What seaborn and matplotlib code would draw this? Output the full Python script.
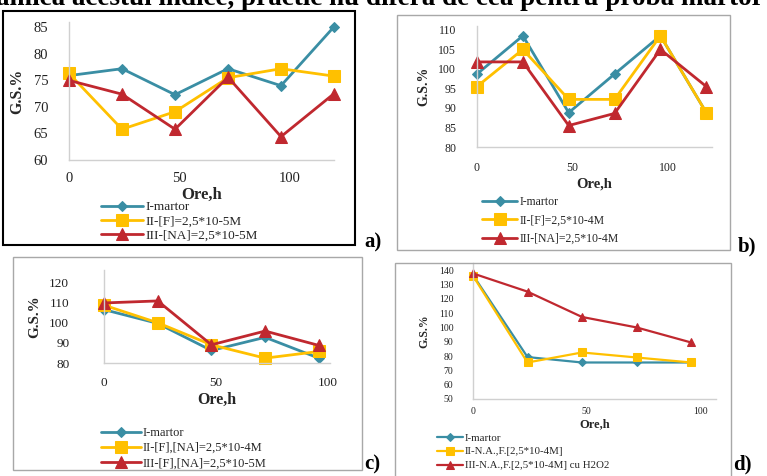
import matplotlib
matplotlib.use("Agg")
import matplotlib.pyplot as plt
import seaborn as sns
import pandas as pd
from matplotlib.patches import Rectangle

sns.set_theme(style="white")
plt.rcParams['font.family'] = ['Liberation Serif', 'DejaVu Serif']

# ---------------- data ----------------
hours6 = [0, 24, 48, 72, 96, 120]
hours5 = [0, 24, 48, 72, 96]

a_martor = [75.9, 77.2, 72.3, 77.2, 74.0, 85.1]
a_F = [76.3, 65.8, 69.1, 75.5, 77.2, 75.8]
a_NA = [75.0, 72.4, 65.8, 75.6, 64.4, 72.5]
a_labels = ["I-martor", "II-[F]=2,5*10-5M", "III-[NA]=2,5*10-5M"]

b_martor = [98.7, 108.5, 88.8, 98.7, 108.5, 88.8]
b_F = [95.5, 105.0, 92.2, 92.2, 108.5, 88.8]
b_NA = [101.8, 101.8, 85.5, 88.6, 105.0, 95.5]
b_labels = ["I-martor", "II-[F]=2,5*10-4M", "III-[NA]=2,5*10-4M"]

c_martor = [106.4, 99.6, 86.2, 92.7, 82.4]
c_F = [108.6, 99.9, 89.0, 82.4, 85.7]
c_NA = [109.7, 110.7, 89.0, 95.8, 88.7]
c_labels = ["I-martor", "II-[F],[NA]=2,5*10-4M", "III-[F],[NA]=2,5*10-5M"]

d_martor = [136.5, 79.3, 75.5, 75.5, 75.5]
d_F = [136.0, 75.5, 82.5, 79.0, 75.5]
d_NA = [137.7, 125.0, 107.3, 100.0, 89.5]
d_labels = ["I-martor", "II-N.A.,F.[2,5*10-4M]", "III-N.A.,F.[2,5*10-4M] cu H2O2"]

x_ticks = [0, 50, 100]

TEAL = "#3A8EA4"
YELLOW = "#FFC000"
RED = "#C0282F"
SPINE = "#D0D0D0"

W, H = 767, 476
fig = plt.figure(figsize=(W / 100, H / 100), dpi=100)
fig.patch.set_facecolor("white")


def px_axes(x0, y0, x1, y1):
    return fig.add_axes([x0 / W, 1 - y1 / H, (x1 - x0) / W, (y1 - y0) / H])


def panel(rect, hours, series, labels, xlim, ylim, yticks, tick_fs, lab_fs,
          ms, lw, leg_xy, leg_fs, leg_handlelen, leg_spacing, xpad, ypad,
          ylab_pad, xlab_pad):
    ax = px_axes(*rect)
    colors = [TEAL, YELLOW, RED]
    markers = ["D", "s", "^"]
    for vals, lab, col, mk, s in zip(series, labels, colors, markers, ms):
        df = pd.DataFrame({"h": hours, "v": vals})
        sns.lineplot(data=df, x="h", y="v", ax=ax, color=col, marker=mk,
                     markersize=s, markeredgecolor=col, markerfacecolor=col,
                     linewidth=lw, label=lab, clip_on=False)
    ax.set_xlim(*xlim)
    ax.set_ylim(*ylim)
    ax.set_xticks(x_ticks)
    ax.set_yticks(yticks)
    ax.tick_params(axis="both", length=0, labelsize=tick_fs, colors="#222222")
    ax.tick_params(axis="x", pad=xpad)
    ax.tick_params(axis="y", pad=ypad)
    for s in ["top", "right"]:
        ax.spines[s].set_visible(False)
    for s in ["left", "bottom"]:
        ax.spines[s].set_color(SPINE)
        ax.spines[s].set_linewidth(1.0)
    ax.set_facecolor("none")
    ax.set_xlabel("Ore,h", fontsize=lab_fs, fontweight="bold", labelpad=xlab_pad)
    ax.set_ylabel("G.S.%", fontsize=lab_fs * 0.95, fontweight="bold", labelpad=ylab_pad)
    ax.legend(loc="upper left", bbox_to_anchor=(leg_xy[0] / W, 1 - leg_xy[1] / H),
              bbox_transform=fig.transFigure, frameon=False, fontsize=leg_fs,
              handlelength=leg_handlelen, handletextpad=0.15, labelspacing=leg_spacing,
              borderpad=0, borderaxespad=0)
    return ax


# panel a
panel((69, 22, 334, 160), hours6, [a_martor, a_F, a_NA], a_labels,
      (0, 120), (60, 86), [60, 65, 70, 75, 80, 85], 10.5, 12,
      (5, 8, 8), 2.0, (101, 201), 9.5, 3.2, 0.15, 9, 15, 6, 1)

# panel b
panel((477, 26, 712, 147), hours6, [b_martor, b_F, b_NA], b_labels,
      (0, 123), (80, 111), [80, 85, 90, 95, 100, 105, 110], 8.5, 10.5,
      (5, 8, 8), 2.0, (482, 196), 8.5, 3.0, 0.55, 11, 15, 6, 2)

# panel c
panel((104, 270, 330, 363), hours5, [c_martor, c_F, c_NA], c_labels,
      (0, 101), (80, 126), [80, 90, 100, 110, 120], 9.5, 11.5,
      (5, 8, 8), 2.0, (101, 427), 9, 3.2, 0.25, 10, 25, 6, 2)

# panel d
panel((473, 263, 716, 399), hours5, [d_martor, d_F, d_NA], d_labels,
      (0, 107), (50, 145), [50, 60, 70, 80, 90, 100, 110, 120, 130, 140], 7, 9,
      (4, 6, 6), 1.6, (437, 433), 7.8, 2.4, 0.4, 6, 14, 6, 1)

# panel borders
fig.patches.append(Rectangle((3 / W, 1 - 245 / H), 352 / W, 234 / H,
                             transform=fig.transFigure, fill=False,
                             edgecolor="black", linewidth=1.5))
fig.patches.append(Rectangle((397 / W, 1 - 250 / H), 333 / W, 235 / H,
                             transform=fig.transFigure, fill=False,
                             edgecolor="#A8A8A8", linewidth=1.0))
fig.patches.append(Rectangle((13 / W, 1 - 470 / H), 349 / W, 213 / H,
                             transform=fig.transFigure, fill=False,
                             edgecolor="#A8A8A8", linewidth=1.0))
fig.patches.append(Rectangle((395 / W, 1 - 480 / H), 336 / W, 217 / H,
                             transform=fig.transFigure, fill=False,
                             edgecolor="#A8A8A8", linewidth=1.0))

# panel letters
for txt, x, y in [("a)", 364, 247), ("b)", 738, 251), ("c)", 364, 469), ("d)", 733, 469)]:
    fig.text(x / W, 1 - y / H, txt, fontsize=15, fontweight="bold",
             ha="left", va="baseline", color="black")

# clipped running text at the top of the page
fig.text(-4 / W, 1 - 5 / H,
         "amica acestui indice, practic nu diferă de cea pentru proba martor",
         fontsize=19.5, fontweight="bold", ha="left", va="baseline", color="black")

fig.savefig("out.png", dpi=100)
